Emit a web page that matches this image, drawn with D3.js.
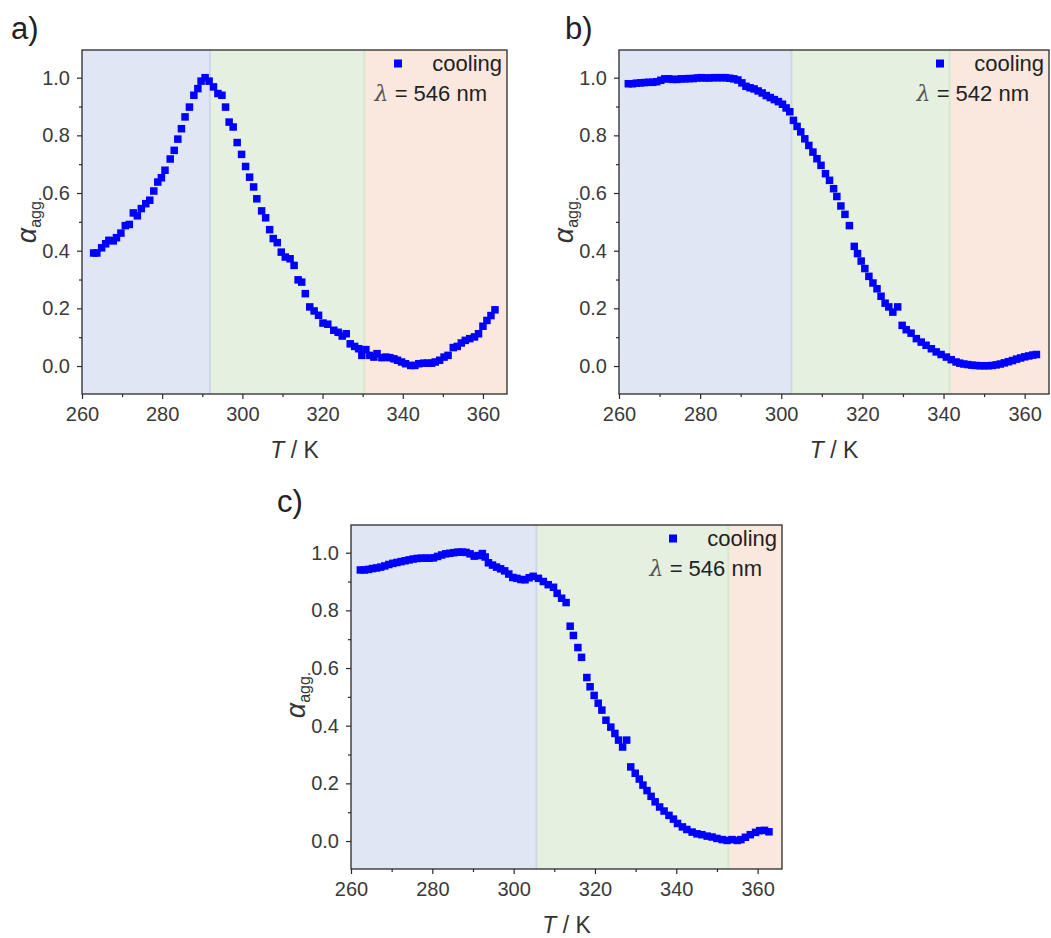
<!DOCTYPE html>
<html><head><meta charset="utf-8">
<script src="https://cdn.jsdelivr.net/npm/d3@7"></script>
<style>
body{margin:0;background:#fff;}
svg{display:block;}
text{font-family:"Liberation Sans",Arial,sans-serif;}
</style>
</head><body>
<svg id="chart" width="1051" height="938"></svg>
<script>
// ---------- data ----------
const tempA = [262.9,263.7,264.9,265.9,266.7,267.8,268.6,269.7,270.8,271.8,
  272.8,273.8,274.8,275.9,276.9,277.9,278.9,279.8,280.7,282.0,
  283.0,283.9,284.8,285.7,286.8,287.9,288.9,289.7,290.7,291.7,
  292.8,293.9,294.9,295.8,296.7,297.7,298.7,299.8,300.8,301.8,
  302.8,303.6,304.8,305.8,306.8,307.7,308.7,309.7,310.7,311.9,
  312.9,313.9,314.8,315.7,316.8,317.9,319.0,320.1,321.3,322.8,
  323.9,324.9,325.9,326.9,328.0,329.0,329.8,330.8,331.8,332.8,
  333.6,334.8,335.8,336.8,337.8,338.7,339.7,340.7,342.0,343.0,
  344.0,345.2,346.2,347.2,348.1,349.2,350.3,351.3,352.6,353.6,
  354.6,355.6,356.7,357.9,358.9,360.0,361.0,362.0,363.0];
const alphaA = [0.392,0.392,0.410,0.424,0.436,0.434,0.445,0.461,0.487,0.491,
  0.531,0.521,0.546,0.563,0.575,0.607,0.638,0.653,0.679,0.718,
  0.748,0.787,0.823,0.864,0.898,0.939,0.962,0.988,1.000,0.988,
  0.968,0.945,0.939,0.898,0.846,0.829,0.775,0.734,0.692,0.655,
  0.621,0.580,0.538,0.514,0.473,0.442,0.428,0.395,0.378,0.372,
  0.349,0.299,0.291,0.251,0.205,0.191,0.176,0.149,0.145,0.124,
  0.117,0.104,0.112,0.077,0.068,0.060,0.037,0.057,0.037,0.031,
  0.043,0.029,0.031,0.029,0.025,0.020,0.014,0.008,0.002,0.002,
  0.008,0.010,0.010,0.010,0.014,0.020,0.031,0.037,0.064,0.068,
  0.080,0.089,0.095,0.101,0.112,0.138,0.158,0.175,0.195];

const tempB = [262.3,263.3,264.3,265.3,266.3,267.3,268.3,269.3,270.3,271.3,
  272.3,273.3,274.3,275.3,276.3,277.3,278.3,279.3,280.3,281.3,
  282.3,283.3,284.3,285.3,286.3,287.3,288.3,289.3,290.3,291.3,
  292.3,293.3,294.3,295.3,296.3,297.3,298.3,299.3,300.3,301.2,
  302.1,303.0,303.9,304.8,305.8,306.8,307.8,308.8,309.8,310.9,
  311.9,312.9,313.7,314.7,315.7,316.8,318.0,318.8,319.7,320.6,
  321.6,322.6,323.6,324.6,325.6,326.5,327.5,328.7,329.8,330.8,
  332.0,333.3,334.5,335.7,337.0,338.2,339.4,340.7,341.9,343.1,
  344.0,345.0,346.0,347.0,348.0,349.0,350.0,351.0,352.0,353.0,
  354.0,355.0,356.0,357.0,358.0,359.0,360.0,361.0,362.0,362.9];
const alphaB = [0.979,0.979,0.981,0.982,0.983,0.984,0.984,0.986,0.991,0.996,
  0.996,0.994,0.994,0.996,0.996,0.997,0.997,0.999,1.000,0.999,
  0.999,1.000,1.000,1.000,1.000,0.998,0.996,0.992,0.982,0.970,
  0.965,0.961,0.954,0.947,0.938,0.931,0.924,0.917,0.908,0.895,
  0.882,0.852,0.831,0.812,0.788,0.765,0.742,0.719,0.696,0.667,
  0.644,0.615,0.588,0.555,0.526,0.487,0.415,0.390,0.364,0.338,
  0.311,0.288,0.268,0.242,0.218,0.205,0.187,0.205,0.141,0.126,
  0.114,0.095,0.083,0.072,0.060,0.049,0.040,0.031,0.022,0.014,
  0.010,0.007,0.005,0.003,0.002,0.001,0.001,0.001,0.002,0.004,
  0.007,0.011,0.015,0.019,0.024,0.028,0.032,0.035,0.038,0.040];

const tempC = [262.3,263.3,264.3,265.3,266.3,267.3,268.3,269.3,270.3,271.3,
  272.3,273.3,274.3,275.3,276.3,277.3,278.3,279.3,280.3,281.3,
  282.3,283.3,284.3,285.3,286.3,287.3,288.3,289.3,290.3,291.3,
  292.3,293.0,293.8,294.8,295.8,296.8,297.8,298.8,299.8,300.8,
  301.8,302.8,303.8,304.8,306.1,307.3,308.5,309.8,310.7,311.8,
  312.9,313.9,314.7,315.8,316.7,318.0,318.8,319.8,320.8,321.7,
  322.7,323.9,324.9,325.8,326.8,327.8,328.8,329.9,330.9,331.8,
  332.8,333.8,334.8,335.9,337.0,338.2,339.3,340.3,341.5,342.6,
  343.9,345.1,346.3,347.6,348.8,350.0,351.3,352.5,353.7,355.0,
  355.9,357.0,358.2,359.5,360.5,361.7,362.8];
const alphaC = [0.940,0.940,0.942,0.945,0.947,0.950,0.954,0.959,0.963,0.966,
  0.969,0.972,0.975,0.978,0.980,0.981,0.981,0.981,0.982,0.987,
  0.992,0.996,0.998,1.000,1.002,1.002,1.001,0.996,0.988,0.990,
  0.997,0.985,0.965,0.957,0.950,0.944,0.937,0.926,0.914,0.911,
  0.907,0.906,0.913,0.918,0.911,0.900,0.889,0.880,0.859,0.842,
  0.827,0.745,0.713,0.671,0.637,0.567,0.535,0.505,0.478,0.454,
  0.419,0.395,0.373,0.350,0.326,0.350,0.257,0.235,0.215,0.194,
  0.175,0.155,0.136,0.118,0.104,0.089,0.076,0.061,0.049,0.040,
  0.031,0.025,0.022,0.017,0.014,0.009,0.005,0.002,0.005,0.002,
  0.005,0.013,0.022,0.030,0.036,0.037,0.032];

// region borders (K): blue | green | orange
const bordersA = [291.9, 330.4];
const bordersB = [302.5, 341.5];
const bordersC = [305.6, 352.8];

const panelLabels = ["a)", "b)", "c)"];
const wavelengths = ["546", "542", "546"];
const seriesName = "cooling";

const xMajor = [260, 280, 300, 320, 340, 360];
const xMinor = [270, 290, 310, 330, 350];
const yMajor = [0.0, 0.2, 0.4, 0.6, 0.8, 1.0];
const yMinor = [0.1, 0.3, 0.5, 0.7, 0.9];

// ---------- drawing ----------
const svg = d3.select("#chart");
const regionFill = ["#e0e6f3", "#e5f0e0", "#fae7dd"];
const regionEdge = ["#cdd7ec", "#d8e8cc"];

function drawPanel(cfg) {
  const {l, t, r, b} = cfg.box;
  const x = d3.scaleLinear().domain([260, 366]).range([l, r]);
  const y = d3.scaleLinear().domain([-0.097, 1.096]).range([b, t]);
  const g = svg.append("g");

  const edges = [260, cfg.borders[0], cfg.borders[1], 366];
  for (let i = 0; i < 3; i++) {
    g.append("rect")
      .attr("x", x(edges[i])).attr("y", t)
      .attr("width", x(edges[i + 1]) - x(edges[i]))
      .attr("height", b - t)
      .attr("fill", regionFill[i]);
  }
  cfg.borders.forEach((bd, i) => {
    g.append("line")
      .attr("x1", x(bd)).attr("x2", x(bd))
      .attr("y1", t).attr("y2", b)
      .attr("stroke", regionEdge[i]).attr("stroke-width", 2);
  });

  // points
  g.append("g").selectAll("rect")
    .data(cfg.temps.map((T, i) => [T, cfg.vals[i]]))
    .join("rect")
    .attr("x", d => x(d[0]) - 3.75)
    .attr("y", d => y(d[1]) - 3.75)
    .attr("width", 7.5).attr("height", 7.5)
    .attr("fill", "#0000ff");

  // frame
  g.append("rect")
    .attr("x", l).attr("y", t).attr("width", r - l).attr("height", b - t)
    .attr("fill", "none").attr("stroke", "#2a2a2a").attr("stroke-width", 1.3);

  // x axis
  const xa = g.append("g").attr("transform", `translate(0,${b})`)
    .call(d3.axisBottom(x).tickValues(xMajor).tickSize(5).tickSizeOuter(0)
      .tickPadding(8).tickFormat(d3.format("d")));
  const xm = g.append("g").attr("transform", `translate(0,${b})`)
    .call(d3.axisBottom(x).tickValues(xMinor).tickSize(3).tickSizeOuter(0).tickFormat(""));
  // y axis
  const ya = g.append("g").attr("transform", `translate(${l},0)`)
    .call(d3.axisLeft(y).tickValues(yMajor).tickSize(5).tickSizeOuter(0)
      .tickPadding(7).tickFormat(d3.format(".1f")));
  const ym = g.append("g").attr("transform", `translate(${l},0)`)
    .call(d3.axisLeft(y).tickValues(yMinor).tickSize(3).tickSizeOuter(0).tickFormat(""));
  [xa, xm, ya, ym].forEach(a => {
    a.select(".domain").remove();
    a.selectAll("line").attr("stroke", "#2a2a2a").attr("stroke-width", 1.2);
    a.selectAll("text").attr("font-size", 20).attr("fill", "#3a3a3a")
      .attr("font-family", "'Liberation Sans', Arial, sans-serif");
  });

  // axis titles
  const xt = g.append("text")
    .attr("x", (l + r) / 2).attr("y", b + 64)
    .attr("text-anchor", "middle").attr("font-size", 23).attr("fill", "#333");
  xt.append("tspan").attr("font-style", "italic").text("T");
  xt.append("tspan").text(" / K");

  const yt = g.append("text")
    .attr("transform", `translate(${l - 46},${(t + b) / 2 - 2}) rotate(-90)`)
    .attr("text-anchor", "middle").attr("fill", "#333");
  yt.append("tspan").attr("font-style", "italic").attr("font-size", 27).text("α");
  yt.append("tspan").attr("font-size", 16).attr("dy", 5).text("agg.");

  // legend
  g.append("rect")
    .attr("x", r - 109 - 4).attr("y", t + 13.5 - 4)
    .attr("width", 8).attr("height", 8).attr("fill", "#0000ff");
  g.append("text")
    .attr("x", r - 5).attr("y", t + 21)
    .attr("text-anchor", "end").attr("font-size", 22).attr("fill", "#222")
    .text(seriesName);
  const lt = g.append("text")
    .attr("x", r - 20).attr("y", t + 51)
    .attr("text-anchor", "end").attr("font-size", 22).attr("fill", "#222");
  lt.append("tspan").attr("font-style", "italic").attr("fill", "#555")
    .attr("font-family", "'DejaVu Serif', serif").attr("font-weight", 300).text("λ");
  lt.append("tspan").text(" = " + cfg.lambda + " nm");

  // panel label
  svg.append("text")
    .attr("x", cfg.labelPos[0]).attr("y", cfg.labelPos[1])
    .attr("font-size", 31).attr("fill", "#222")
    .text(cfg.label);
}

drawPanel({label: panelLabels[0], temps: tempA, vals: alphaA, borders: bordersA,
  lambda: wavelengths[0], box: {l: 82, t: 50, r: 507, b: 394}, labelPos: [11, 39]});
drawPanel({label: panelLabels[1], temps: tempB, vals: alphaB, borders: bordersB,
  lambda: wavelengths[1], box: {l: 619, t: 50, r: 1049, b: 394}, labelPos: [565, 39]});
drawPanel({label: panelLabels[2], temps: tempC, vals: alphaC, borders: bordersC,
  lambda: wavelengths[2], box: {l: 351, t: 525, r: 782, b: 869}, labelPos: [277, 512]});
</script>
</body></html>
